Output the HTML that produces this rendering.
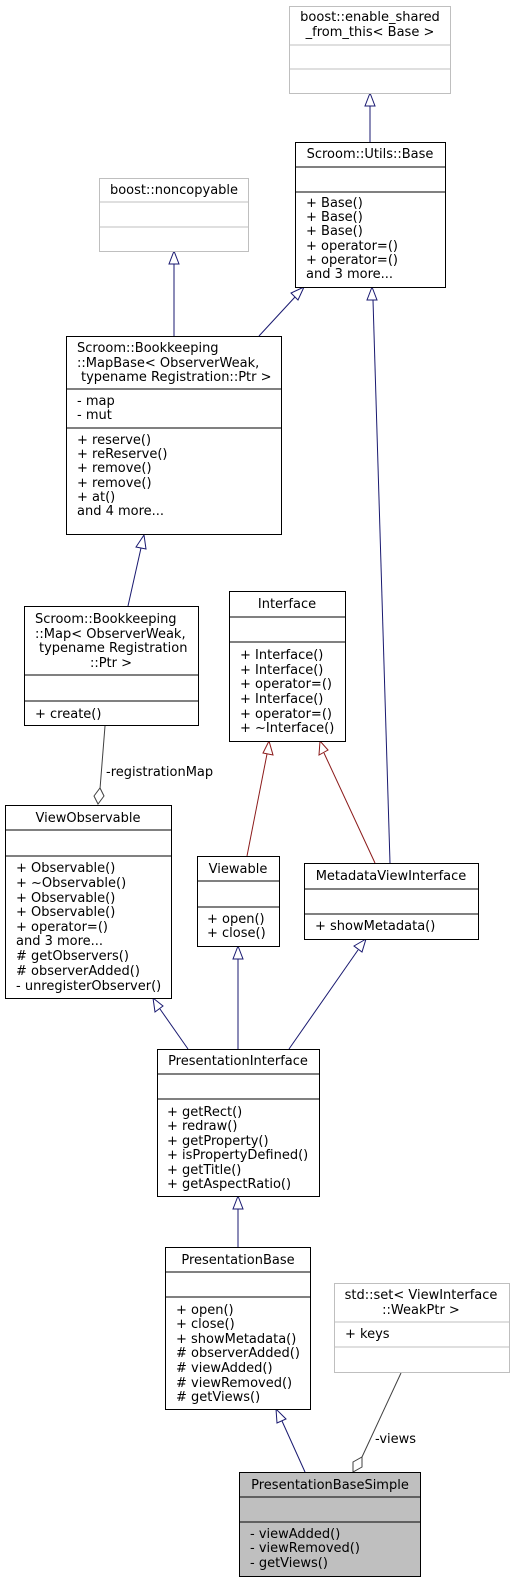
<!DOCTYPE html>
<html><head><meta charset="utf-8"><style>
body{margin:0;background:#fff}
svg{display:block}
text{font-family:"DejaVu Sans","Liberation Sans",sans-serif;font-size:13px;fill:#000}
.t{text-anchor:middle}
.b{fill:#fff;stroke:#000;stroke-width:1}
.g{fill:#fff;stroke:#bfbfbf;stroke-width:1}
.l{stroke:#000;stroke-width:1}
.lg{stroke:#bfbfbf;stroke-width:1}
.e{stroke:#191970;stroke-width:1;fill:none}
.r{stroke:#8b1a1a;stroke-width:1;fill:none}
.a{fill:#fff;stroke:#191970}
.ar{fill:#fff;stroke:#8b1a1a}
.d{stroke:#404040;fill:none}
</style></head><body>
<svg width="515" height="1588" viewBox="0 0 515 1588" xmlns="http://www.w3.org/2000/svg">
<line class="e" x1="370" y1="142" x2="370" y2="106"/><polygon class="a" points="370,93 365,106 375,106"/>
<line class="e" x1="174" y1="336" x2="174" y2="264"/><polygon class="a" points="174,251 169,264 179,264"/>
<line class="e" x1="259" y1="336" x2="295" y2="297"/><polygon class="a" points="304,287 291,293 298,300"/>
<line class="e" x1="390" y1="863" x2="373" y2="300"/><polygon class="a" points="372,287 367,300 377,300"/>
<line class="e" x1="128" y1="606" x2="141" y2="548"/><polygon class="a" points="144,535 136,547 146,549"/>
<line class="d" x1="105" y1="726" x2="100" y2="789"/><polygon class="d" points="98,804 94,796 100,788 104,796" style="fill:#fff"/>
<text x="106" y="776">-registrationMap</text>
<line class="r" x1="247" y1="856" x2="267" y2="754"/><polygon class="ar" points="269,741 263,753 273,755"/>
<line class="r" x1="375" y1="863" x2="324" y2="753"/><polygon class="ar" points="320,741 319,755 328,750"/>
<line class="e" x1="188" y1="1049" x2="160" y2="1009"/><polygon class="a" points="153,998 155,1012 163,1006"/>
<line class="e" x1="238" y1="1049" x2="238" y2="959"/><polygon class="a" points="238,946 233,959 243,959"/>
<line class="e" x1="289" y1="1049" x2="358" y2="950"/><polygon class="a" points="366,939 354,946 362,952"/>
<line class="e" x1="238" y1="1247" x2="238" y2="1209"/><polygon class="a" points="238,1196 233,1209 243,1209"/>
<line class="e" x1="305" y1="1472" x2="282" y2="1421"/><polygon class="a" points="276,1409 277,1423 286,1419"/>
<line class="d" x1="401" y1="1373" x2="362" y2="1457"/><polygon class="d" points="353,1472 353,1462 362,1457 362,1467" style="fill:#fff"/>
<text x="375" y="1443">-views</text>

<rect class="g" x="289.5" y="6.5" width="161" height="87"/>
<line class="lg" x1="289.5" y1="45" x2="450.5" y2="45"/><line class="lg" x1="289.5" y1="69" x2="450.5" y2="69"/>
<text class="t" x="370" y="21">boost::enable_shared</text><text class="t" x="370" y="36">_from_this&lt; Base &gt;</text>

<rect class="b" x="295.5" y="142.5" width="150" height="145"/>
<line class="l" x1="295.5" y1="167" x2="445.5" y2="167"/><line class="l" x1="295.5" y1="192" x2="445.5" y2="192"/>
<text class="t" x="370" y="158">Scroom::Utils::Base</text>
<text x="306" y="207">+ Base()</text><text x="306" y="221">+ Base()</text><text x="306" y="235">+ Base()</text><text x="306" y="250">+ operator=()</text><text x="306" y="264">+ operator=()</text><text x="306" y="278">and 3 more...</text>

<rect class="g" x="99.5" y="178.5" width="149" height="73"/>
<line class="lg" x1="99.5" y1="202" x2="248.5" y2="202"/><line class="lg" x1="99.5" y1="227" x2="248.5" y2="227"/>
<text class="t" x="174" y="194">boost::noncopyable</text>

<rect class="b" x="66.5" y="336.5" width="215" height="198"/>
<line class="l" x1="66.5" y1="389" x2="281.5" y2="389"/><line class="l" x1="66.5" y1="428" x2="281.5" y2="428"/>
<text x="77" y="352">Scroom::Bookkeeping</text><text x="77" y="367">::MapBase&lt; ObserverWeak,</text><text x="81" y="381">typename Registration::Ptr &gt;</text>
<text x="77" y="405">- map</text><text x="77" y="419">- mut</text>
<text x="77" y="444">+ reserve()</text><text x="77" y="458">+ reReserve()</text><text x="77" y="472">+ remove()</text><text x="77" y="487">+ remove()</text><text x="77" y="501">+ at()</text><text x="77" y="515">and 4 more...</text>

<rect class="b" x="24.5" y="606.5" width="174" height="119"/>
<line class="l" x1="24.5" y1="675" x2="198.5" y2="675"/><line class="l" x1="24.5" y1="701" x2="198.5" y2="701"/>
<text x="35" y="623">Scroom::Bookkeeping</text><text x="35" y="638">::Map&lt; ObserverWeak,</text><text x="39" y="652">typename Registration</text><text class="t" x="111" y="667">::Ptr &gt;</text>
<text x="35" y="718">+ create()</text>

<rect class="b" x="229.5" y="591.5" width="116" height="150"/>
<line class="l" x1="229.5" y1="617" x2="345.5" y2="617"/><line class="l" x1="229.5" y1="642" x2="345.5" y2="642"/>
<text class="t" x="287" y="608">Interface</text>
<text x="240" y="659">+ Interface()</text><text x="240" y="674">+ Interface()</text><text x="240" y="688">+ operator=()</text><text x="240" y="703">+ Interface()</text><text x="240" y="718">+ operator=()</text><text x="240" y="732">+ ~Interface()</text>

<rect class="b" x="5.5" y="805.5" width="166" height="193"/>
<line class="l" x1="5.5" y1="830" x2="171.5" y2="830"/><line class="l" x1="5.5" y1="856" x2="171.5" y2="856"/>
<text class="t" x="88" y="822">ViewObservable</text>
<text x="16" y="872">+ Observable()</text><text x="16" y="887">+ ~Observable()</text><text x="16" y="902">+ Observable()</text><text x="16" y="916">+ Observable()</text><text x="16" y="931">+ operator=()</text><text x="16" y="945">and 3 more...</text><text x="16" y="960"># getObservers()</text><text x="16" y="975"># observerAdded()</text><text x="16" y="990">- unregisterObserver()</text>

<rect class="b" x="197.5" y="856.5" width="82" height="90"/>
<line class="l" x1="197.5" y1="881" x2="279.5" y2="881"/><line class="l" x1="197.5" y1="907" x2="279.5" y2="907"/>
<text class="t" x="238" y="873">Viewable</text>
<text x="207" y="923">+ open()</text><text x="207" y="937">+ close()</text>

<rect class="b" x="304.5" y="863.5" width="174" height="76"/>
<line class="l" x1="304.5" y1="889" x2="478.5" y2="889"/><line class="l" x1="304.5" y1="914" x2="478.5" y2="914"/>
<text class="t" x="391" y="880">MetadataViewInterface</text>
<text x="315" y="930">+ showMetadata()</text>

<rect class="b" x="157.5" y="1049.5" width="162" height="147"/>
<line class="l" x1="157.5" y1="1074" x2="319.5" y2="1074"/><line class="l" x1="157.5" y1="1099" x2="319.5" y2="1099"/>
<text class="t" x="238" y="1065">PresentationInterface</text>
<text x="167" y="1116">+ getRect()</text><text x="167" y="1130">+ redraw()</text><text x="167" y="1145">+ getProperty()</text><text x="167" y="1159">+ isPropertyDefined()</text><text x="167" y="1174">+ getTitle()</text><text x="167" y="1188">+ getAspectRatio()</text>

<rect class="b" x="165.5" y="1247.5" width="145" height="162"/>
<line class="l" x1="165.5" y1="1272" x2="310.5" y2="1272"/><line class="l" x1="165.5" y1="1297" x2="310.5" y2="1297"/>
<text class="t" x="238" y="1264">PresentationBase</text>
<text x="176" y="1314">+ open()</text><text x="176" y="1328">+ close()</text><text x="176" y="1343">+ showMetadata()</text><text x="176" y="1357"># observerAdded()</text><text x="176" y="1372"># viewAdded()</text><text x="176" y="1387"># viewRemoved()</text><text x="176" y="1401"># getViews()</text>

<rect class="g" x="334.5" y="1283.5" width="175" height="89"/>
<line class="lg" x1="334.5" y1="1322" x2="509.5" y2="1322"/><line class="lg" x1="334.5" y1="1347" x2="509.5" y2="1347"/>
<text class="t" x="421" y="1299">std::set&lt; ViewInterface</text><text class="t" x="421" y="1314">::WeakPtr &gt;</text>
<text x="345" y="1338">+ keys</text>

<rect x="239.5" y="1472.5" width="181" height="104" style="fill:#bfbfbf;stroke:#000"/>
<line class="l" x1="239.5" y1="1497" x2="420.5" y2="1497"/><line class="l" x1="239.5" y1="1522" x2="420.5" y2="1522"/>
<text class="t" x="330" y="1489">PresentationBaseSimple</text>
<text x="250" y="1538">- viewAdded()</text><text x="250" y="1552">- viewRemoved()</text><text x="250" y="1567">- getViews()</text>
</svg>
</body></html>
